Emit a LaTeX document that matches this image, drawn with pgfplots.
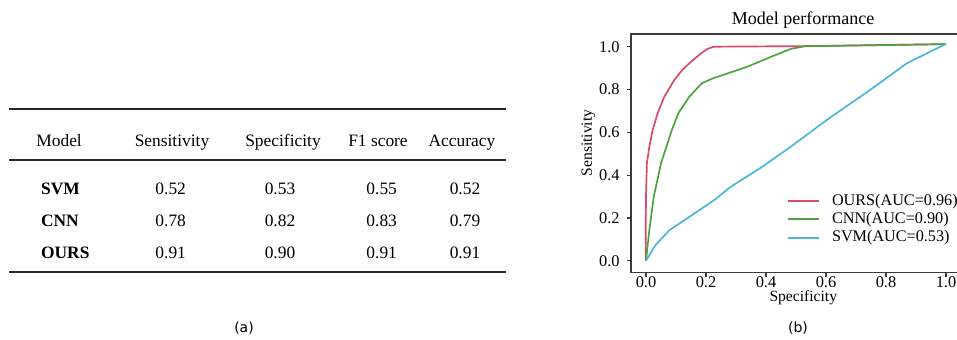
\documentclass[border=0pt]{standalone}
\usepackage{pgfplots}
\pgfplotsset{compat=1.18}
\usepackage{fontspec}
\setmainfont{Liberation Serif}
\newfontfamily\sansf{DejaVu Sans}
\newfontfamily\serf{Liberation Serif}
\definecolor{cours}{HTML}{DC4A6A}
\definecolor{ccnn}{HTML}{4FA33F}
\definecolor{csvm}{HTML}{4DB6D6}
\definecolor{axgray}{HTML}{3A3A3A}
\begin{document}
\begin{tikzpicture}
\begin{scope}[x=0.5pt,y=-0.5pt]
% ---------- (a) table ----------
\draw[line width=1pt, black!85] (9,109.3) -- (506,109.3);
\draw[line width=0.8pt, black!85] (9,160) -- (506,160);
\draw[line width=1pt, black!85] (9,271.7) -- (506,271.7);
\begin{scope}[every node/.style={font=\fontsize{8.7}{10}\selectfont, inner sep=0pt}]
\node[anchor=base west] at (36,146.5) {Model};
\node[anchor=base] at (172,146.5) {Sensitivity};
\node[anchor=base] at (283,146.5) {Specificity};
\node[anchor=base] at (378,146.5) {F1 score};
\node[anchor=base] at (462,146.5) {Accuracy};
\node[anchor=base west] at (40.7,194) {\bfseries SVM};
\node[anchor=base west] at (40.7,226) {\bfseries CNN};
\node[anchor=base west] at (40.7,258.3) {\bfseries OURS};
\node[anchor=base] at (170.7,194) {0.52};
\node[anchor=base] at (280,194) {0.53};
\node[anchor=base] at (381.7,194) {0.55};
\node[anchor=base] at (465,194) {0.52};
\node[anchor=base] at (170.7,226) {0.78};
\node[anchor=base] at (280,226) {0.82};
\node[anchor=base] at (381.7,226) {0.83};
\node[anchor=base] at (465,226) {0.79};
\node[anchor=base] at (170.7,258.3) {0.91};
\node[anchor=base] at (280,258.3) {0.90};
\node[anchor=base] at (381.7,258.3) {0.91};
\node[anchor=base] at (465,258.3) {0.91};
\end{scope}
\node[font=\sansf\fontsize{7}{8}\selectfont, inner sep=0pt] at (244,328) {(a)};
\node[anchor=base, font=\fontsize{9}{10}\selectfont, inner sep=0pt] at (803,24.5) {Model performance};
\node[anchor=base, font=\fontsize{7.8}{9}\selectfont, inner sep=0pt] at (803.3,301) {Specificity};
\node[rotate=90, font=\fontsize{7.8}{9}\selectfont, inner sep=0pt] at (588.3,143) {Sensitivity};
\node[font=\sansf\fontsize{7}{8}\selectfont, inner sep=0pt] at (798,328) {(b)};
\end{scope}
% ---------- (b) ROC ----------
\begin{axis}[
  at={(315.5pt,-136.35pt)}, anchor=south west, scale only axis,
  width=165pt, height=119.35pt,
  xmin=-0.05, xmax=1.05, ymin=-0.0561, ymax=1.0593,
  axis line style={axgray, line width=0.6pt},
  tick style={axgray, line width=0.6pt},
  major tick length=2pt, tick align=outside,
  xtick pos=left, ytick pos=left,
  xtick={0,0.2,0.4,0.6,0.8,1.0}, ytick={0,0.2,0.4,0.6,0.8,1.0},
  xticklabels={0.0,0.2,0.4,0.6,0.8,1.0},
  yticklabels={0.0,0.2,0.4,0.6,0.8,1.0},
  minor tick num=0,
  /pgf/number format/assume math mode=true,
  ticklabel style={font=\serf\fontsize{8.2}{9}\selectfont, inner sep=0pt},
  xticklabel style={yshift=0.5pt},
  yticklabel style={xshift=-3.5pt},
  legend style={draw=none, fill=none, at={(0.4727,0.335)}, anchor=north west,
    font=\serf\fontsize{8.1}{9}\selectfont, row sep=1.6pt, inner sep=0pt,
    nodes={inner sep=0pt, text height=6pt, text depth=1.6pt},
    /tikz/every odd column/.append style={column sep=5.8pt}},
  legend cell align=left,
  legend image code/.code={\draw[#1, line width=1pt] plot coordinates {(0pt,0pt) (7.75pt,0pt) (15.5pt,0pt)};},
  every axis plot/.append style={line width=0.85pt},
]
\addplot[cours] coordinates {(0,0) (-0.001,0.15) (0,0.30) (0.003,0.455) (0.011,0.533) (0.022,0.61) (0.039,0.69) (0.061,0.766) (0.094,0.844) (0.12,0.89) (0.144,0.922) (0.183,0.969) (0.205,0.99) (0.226,1.0) (0.55,1.003) (1.0,1.012)};
\addlegendentry{OURS(AUC=0.96)}
\addplot[ccnn] coordinates {(0,0) (0.011,0.143) (0.026,0.30) (0.05,0.455) (0.086,0.61) (0.108,0.69) (0.144,0.766) (0.186,0.829) (0.223,0.852) (0.339,0.907) (0.417,0.953) (0.483,0.99) (0.53,1.002) (1.0,1.012)};
\addlegendentry{CNN(AUC=0.90)}
\addplot[csvm] coordinates {(0,0) (0.03,0.07) (0.078,0.143) (0.15,0.21) (0.228,0.284) (0.283,0.346) (0.38,0.432) (0.483,0.533) (0.602,0.657) (0.747,0.798) (0.869,0.922) (1.0,1.013)};
\addlegendentry{SVM(AUC=0.53)}
\end{axis}
\pgfresetboundingbox
\path[use as bounding box] (0,0) rectangle (478.5pt,-169.5pt);
\end{tikzpicture}
\end{document}
